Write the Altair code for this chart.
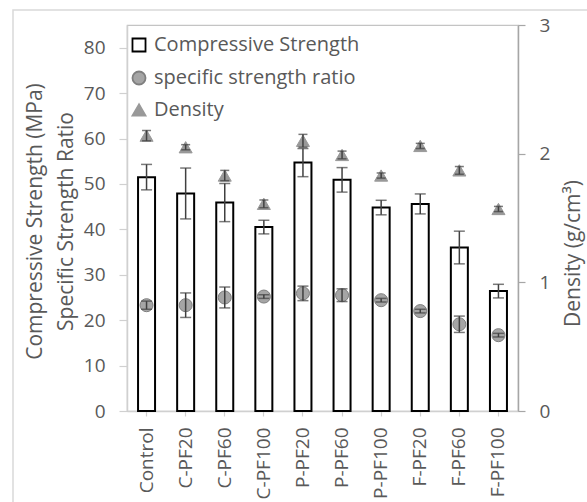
import altair as alt
import pandas as pd

categories = ["Control", "C-PF20", "C-PF60", "C-PF100", "P-PF20", "P-PF60",
              "P-PF100", "F-PF20", "F-PF60", "F-PF100"]
strength = [51.5, 47.9, 45.9, 40.5, 54.7, 50.9, 44.8, 45.6, 36.0, 26.4]
strength_err = [2.8, 5.6, 4.2, 1.5, 3.1, 2.7, 1.6, 2.2, 3.6, 1.5]
ratio = [23.3, 23.3, 25.0, 25.2, 25.9, 25.5, 24.4, 22.0, 19.1, 16.7]
ratio_err = [0.9, 2.7, 2.3, 0.4, 1.6, 1.4, 0.4, 0.4, 1.8, 0.4]
density = [2.14, 2.05, 1.83, 1.61, 2.10, 1.99, 1.83, 2.06, 1.87, 1.57]
density_err = [0.04, 0.02, 0.04, 0.03, 0.05, 0.03, 0.02, 0.02, 0.03, 0.02]
series = ["Compressive Strength", "specific strength ratio", "Density"]

df = pd.DataFrame({
    "cat": categories,
    "s": strength,
    "s_lo": [v - e for v, e in zip(strength, strength_err)],
    "s_hi": [v + e for v, e in zip(strength, strength_err)],
    "r": ratio,
    "r_lo": [v - e for v, e in zip(ratio, ratio_err)],
    "r_hi": [v + e for v, e in zip(ratio, ratio_err)],
    "d": density,
    "d_lo": [v - e for v, e in zip(density, density_err)],
    "d_hi": [v + e for v, e in zip(density, density_err)],
    "ser_r": series[1],
    "ser_d": series[2],
})

FONT = "Open Sans"
GREY = "#595959"
ERR = "#404040"

x = alt.X("cat:N", sort=categories,
          scale=alt.Scale(paddingInner=0, paddingOuter=0),
          axis=alt.Axis(title=None, labelAngle=-90, labelPadding=11, tickSize=5,
                        domainColor="#d0d0d0", tickColor="#d0d0d0"))

yl_axis = alt.Axis(values=[0, 10, 20, 30, 40, 50, 60, 70, 80],
                   title=["Compressive Strength (MPa)", "Specific Strength Ratio"],
                   titleX=-92, titleY=196, titleAngle=-90, titleAlign="center",
                   titleBaseline="middle", titleLineHeight=31,
                   tickSize=8, labelPadding=14, domainColor="#d0d0d0", tickColor="#d0d0d0",
                   grid=False)
yl_scale = alt.Scale(domain=[0, 85], nice=False)

yr_axis = alt.Axis(orient="right", values=[0, 0.5, 1, 1.5, 2, 2.5, 3], format="d",
                   labelExpr="datum.value % 1 == 0 ? datum.label : ''",
                   title="Density (g/cm³)", titleX=55, titleY=228, titleAngle=-90,
                   titleAlign="center", titleBaseline="middle",
                   tickSize=7, labelPadding=14, domainColor="#a6a6a6", tickColor="#a6a6a6",
                   grid=False)
yr_scale = alt.Scale(domain=[0, 3], nice=False)

legend_scale_shape = alt.Scale(domain=series, range=["square", "circle", "triangle-up"])
legend_scale_fill = alt.Scale(domain=series, range=["white", "#a5a5a5", "#999999"])
legend_scale_stroke = alt.Scale(domain=series, range=["black", "#7f7f7f", "#999999"])
legend = alt.Legend(title=None, orient="none", legendX=2, legendY=10,
                    symbolSize=170, symbolStrokeWidth=1.8, labelOffset=5,
                    rowPadding=11, labelFontSize=20, labelFont=FONT, labelColor=GREY,
                    labelLimit=400, padding=0, offset=0)

base = alt.Chart(df)

frame = alt.Chart(alt.Data(values=[{"a": 1}])).mark_rect(
    fill="transparent", stroke="#d9d9d9", strokeWidth=1.5
).encode(x=alt.value(-114), y=alt.value(-15), x2=alt.value(700), y2=alt.value(700))

bars = base.mark_bar(size=17, fill="white", stroke="black", strokeWidth=2).encode(
    x=x, y=alt.Y("s:Q", scale=yl_scale, axis=yl_axis))
bar_err = base.mark_rule(color=ERR, strokeWidth=1.5).encode(
    x=x, y=alt.Y("s_lo:Q"), y2="s_hi:Q")
bar_cap_lo = base.mark_tick(color=ERR, size=11, thickness=1.5).encode(x=x, y="s_lo:Q")
bar_cap_hi = base.mark_tick(color=ERR, size=11, thickness=1.5).encode(x=x, y="s_hi:Q")

circles = base.mark_point(filled=True, size=170, opacity=1, strokeWidth=1).encode(
    x=x, y="r:Q",
    shape=alt.Shape("ser_r:N", scale=legend_scale_shape, legend=legend),
    fill=alt.Fill("ser_r:N", scale=legend_scale_fill, legend=legend),
    stroke=alt.Stroke("ser_r:N", scale=legend_scale_stroke, legend=legend))
r_err = base.mark_rule(color=ERR, strokeWidth=1.5).encode(x=x, y="r_lo:Q", y2="r_hi:Q")
r_cap_lo = base.mark_tick(color=ERR, size=11, thickness=1.5).encode(x=x, y="r_lo:Q")
r_cap_hi = base.mark_tick(color=ERR, size=11, thickness=1.5).encode(x=x, y="r_hi:Q")

left = alt.layer(frame, bars, bar_err, bar_cap_lo, bar_cap_hi, circles,
                 r_err, r_cap_lo, r_cap_hi)

tri = base.mark_point(filled=True, size=170, opacity=1, strokeWidth=1).encode(
    x=x, y=alt.Y("d:Q", scale=yr_scale, axis=yr_axis),
    shape=alt.Shape("ser_d:N", scale=legend_scale_shape, legend=legend),
    fill=alt.Fill("ser_d:N", scale=legend_scale_fill, legend=legend),
    stroke=alt.Stroke("ser_d:N", scale=legend_scale_stroke, legend=legend))
d_err = base.mark_rule(color=ERR, strokeWidth=1.5).encode(x=x, y="d_lo:Q", y2="d_hi:Q")
d_cap_lo = base.mark_tick(color=ERR, size=9, thickness=1.5).encode(x=x, y="d_lo:Q")
d_cap_hi = base.mark_tick(color=ERR, size=9, thickness=1.5).encode(x=x, y="d_hi:Q")

right = alt.layer(tri, d_err, d_cap_lo, d_cap_hi)

chart = alt.layer(left, right).resolve_scale(y="independent").properties(
    width=391, height=386,
    autosize=alt.AutoSizeParams(type="none"),
    padding={"left": 127, "top": 25, "right": 69, "bottom": 91},
    background="white",
).configure_view(stroke="#c4c4c4", strokeWidth=1.2).configure_axis(
    labelFont=FONT, labelFontSize=19, labelColor=GREY,
    titleFont=FONT, titleFontSize=21, titleColor=GREY, titleFontWeight="normal",
    domainWidth=1.5, tickWidth=1.2,
)

chart.save("out.html", embed_options={"renderer": "svg", "actions": False})
